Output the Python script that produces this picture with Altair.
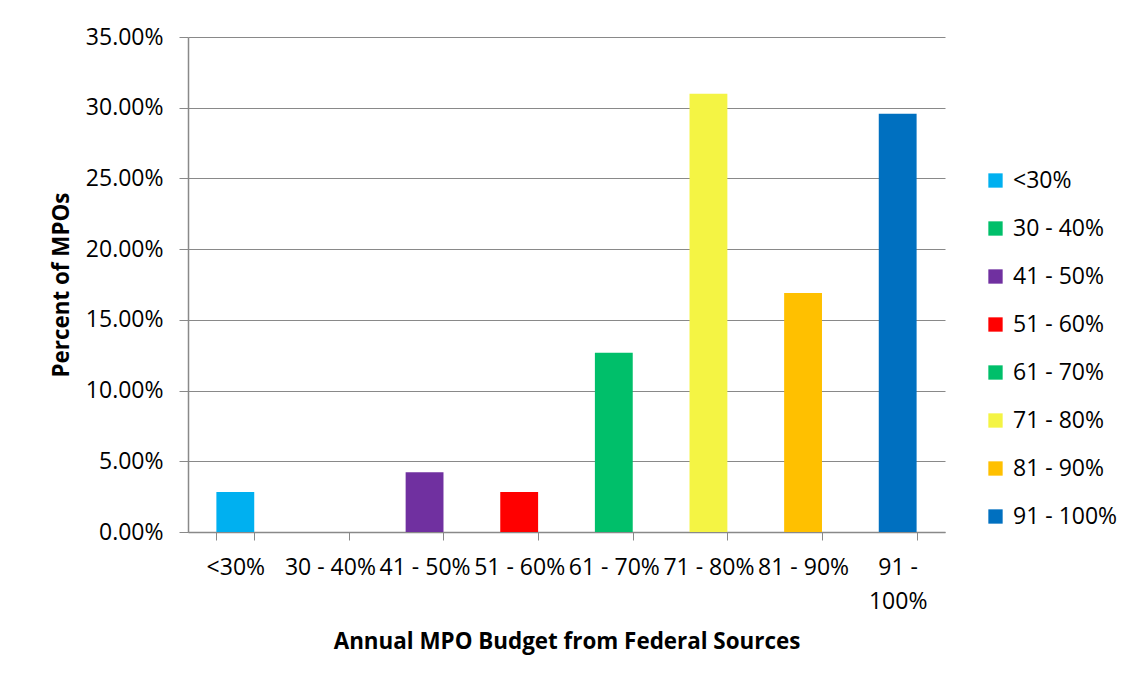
import altair as alt
import pandas as pd

categories = ["<30%", "30 - 40%", "41 - 50%", "51 - 60%", "61 - 70%", "71 - 80%", "81 - 90%", "91 - 100%"]
values = [0.0282, 0.0, 0.0423, 0.0282, 0.1268, 0.3099, 0.1690, 0.2958]
colors = ["#00B0F0", "#00BF6A", "#7030A0", "#FF0000", "#00BF6A", "#F4F444", "#FFC000", "#0070C0"]
y_ticks = [0, 0.05, 0.10, 0.15, 0.20, 0.25, 0.30, 0.35]

df = pd.DataFrame({"cat": categories, "val": values})

FONT = "Open Sans"
GRAY = "#898989"

chart = alt.Chart(df).mark_bar().encode(
    x=alt.X("cat:N", sort=categories,
            scale=alt.Scale(paddingInner=0.6, paddingOuter=0.3),
            axis=alt.Axis(title="Annual MPO Budget from Federal Sources",
                          labelAngle=0, labelOverlap=False, labelLimit=0,
                          labelExpr="datum.label == '91 - 100%' ? ['91 -', '100%'] : datum.label",
                          tickBand="extent", tickSize=8, tickColor=GRAY,
                          domainColor=GRAY, labelPadding=16, titlePadding=17,
                          labelFontSize=23, titleFontSize=22.4, labelLineHeight=34)),
    y=alt.Y("val:Q", scale=alt.Scale(domain=[0, 0.35]),
            axis=alt.Axis(title="Percent of MPOs", format=".2%", values=y_ticks,
                          tickSize=9, tickColor=GRAY, domainColor=GRAY,
                          gridColor=GRAY, labelPadding=16, titlePadding=12,
                          labelFontSize=23, titleFontSize=22.4)),
    color=alt.Color("cat:N", sort=categories,
                    scale=alt.Scale(domain=categories, range=colors),
                    legend=alt.Legend(title=None, orient="none", legendX=796, legendY=132,
                                      symbolType="square", symbolSize=205,
                                      symbolStrokeWidth=0, labelFontSize=23,
                                      rowPadding=24, labelOffset=6)),
).properties(
    width=757, height=495,
    padding={"left": 42, "top": 18, "right": 0, "bottom": 10},
).configure_view(
    stroke=None
).configure_axis(
    labelFont=FONT, titleFont=FONT, labelColor="#000000", titleColor="#000000",
    titleFontWeight="bold", domainWidth=1.5, gridWidth=1
).configure_legend(
    labelFont=FONT, labelColor="#000000"
)

chart.save("out.html", embed_options={"renderer": "svg", "actions": False})
